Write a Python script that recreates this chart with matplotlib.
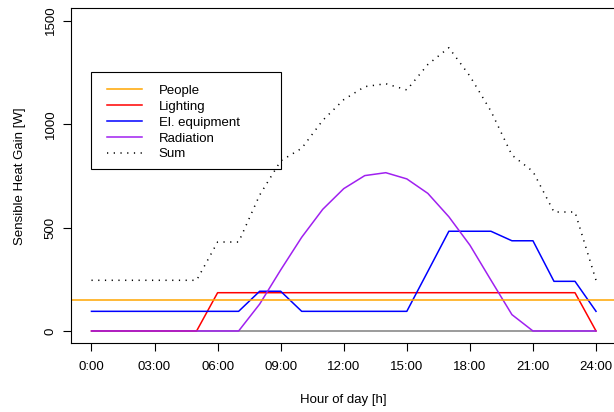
import numpy as np
import matplotlib
matplotlib.use('Agg')
import matplotlib.pyplot as plt
from matplotlib.patches import Rectangle
from matplotlib.lines import Line2D

hours = list(range(25))
people = 150
lighting = [0, 0, 0, 0, 0, 0, 185, 185, 185, 185, 185, 185, 185,
            185, 185, 185, 185, 185, 185, 185, 185, 185, 185, 185, 0]
equipment = [95, 95, 95, 95, 95, 95, 95, 95, 192, 192, 95, 95, 95,
             95, 95, 95, 288, 482, 482, 482, 436, 436, 240, 240, 95]
radiation = [0, 0, 0, 0, 0, 0, 0, 0, 130, 295, 453, 588, 688,
             751, 765, 735, 665, 552, 415, 246, 79, 0, 0, 0, 0]
total = [245, 245, 245, 245, 245, 245, 430, 430, 657, 822, 883, 1018, 1118,
         1181, 1195, 1165, 1288, 1369, 1232, 1063, 850, 771, 575, 575, 245]
xtick_labels = ["0:00", "03:00", "06:00", "09:00", "12:00", "15:00", "18:00", "21:00", "24:00"]
legend_labels = ["People", "Lighting", "El. equipment", "Radiation", "Sum"]

plt.rcParams['font.family'] = ['Liberation Sans', 'DejaVu Sans']
plt.rcParams['font.size'] = 9.5

W, H = 614, 412
fig = plt.figure(figsize=(W / 100, H / 100), dpi=100)

# axes box in pixel coords (R style, 4% padding)
x0, x1, y0, y1 = 71.3, 616.2, 8.2, 343.4
ax = fig.add_axes([x0 / W, 1 - y1 / H, (x1 - x0) / W, (y1 - y0) / H])

lw = 1.1
ax.hlines(0, hours[0], hours[-1], color='#808080', lw=lw)
ax.plot(hours, lighting, color='red', lw=lw)
ax.plot(hours, equipment, color='blue', lw=lw)
ax.plot(hours, radiation, color='#A020F0', lw=lw)
ax.plot(hours, total, color='black', lw=lw, linestyle=(0, (0.8, 3.6)))
ax.axhline(people, color='orange', lw=lw)

ax.set_xlim(-0.96, 24.96)
ax.set_ylim(-60, 1560)
ax.set_xticks(range(0, 25, 3))
ax.set_xticklabels(xtick_labels)
ax.set_yticks([0, 500, 1000, 1500])
ax.tick_params(axis='x', length=6, width=0.8, pad=6.5)
ax.tick_params(axis='y', length=5.6, width=0.8, pad=5, labelrotation=90)
for lab in ax.get_yticklabels():
    lab.set_va('center')
for s in ax.spines.values():
    s.set_linewidth(0.8)

fig.text(343.5 / W, 1 - 400.5 / H, "Hour of day [h]", ha='center', va='center')
fig.text(20.5 / W, 1 - 175.8 / H, "Sensible Heat Gain [W]", ha='center', va='center', rotation=90)

# legend
fig.patches.append(Rectangle((91.3 / W, 1 - 169 / H), (281 - 91.3) / W, (169 - 72.3) / H,
                             transform=fig.transFigure, fill=False, edgecolor='black', lw=0.8))
handles = [Line2D([], [], color='orange', lw=lw),
           Line2D([], [], color='red', lw=lw),
           Line2D([], [], color='blue', lw=lw),
           Line2D([], [], color='#A020F0', lw=lw),
           Line2D([], [], color='black', lw=lw, linestyle=(0, (0.8, 3.6)))]
fig.legend(handles, legend_labels, loc='upper left', bbox_to_anchor=(107 / W, 1 - 84.5 / H),
           bbox_transform=fig.transFigure, frameon=False, borderpad=0, borderaxespad=0,
           handlelength=2.65, handletextpad=1.26, labelspacing=0.28, fontsize=9.5)

fig.savefig('out.png', dpi=100)
